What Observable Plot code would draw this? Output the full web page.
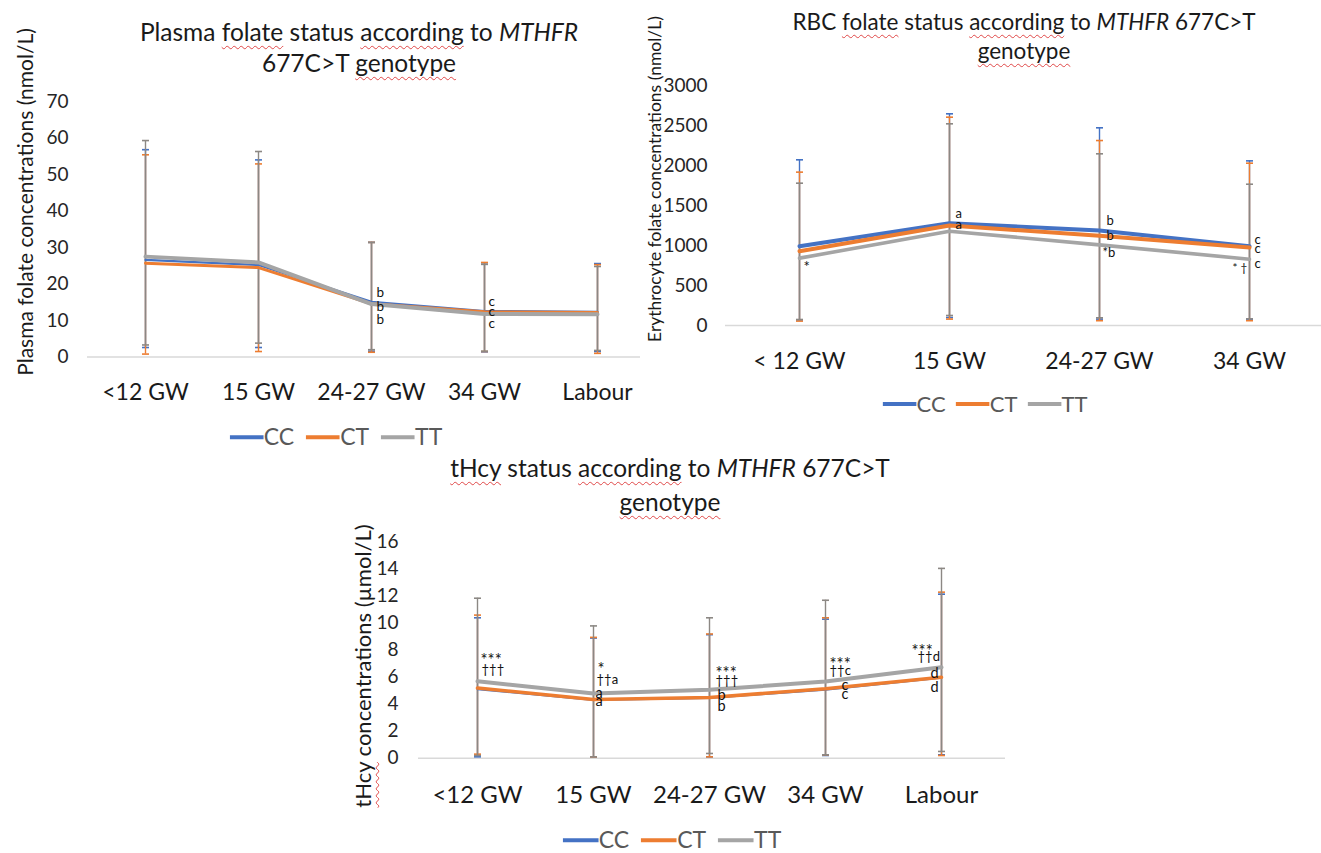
<!DOCTYPE html>
<html><head><meta charset="utf-8">
<script src="https://cdn.jsdelivr.net/npm/d3@7"></script>
<script src="https://cdn.jsdelivr.net/npm/@observablehq/plot@0.6"></script>
<style>
body{margin:0;background:#fff;}
#root{position:relative;width:1321px;height:853px;overflow:hidden;font-family:Lato,"Open Sans",sans-serif;color:#1a1a1a;background:#fff;}
.abs{position:absolute;white-space:nowrap;line-height:1.2;}
.title{transform:translate(-50%,-50%);text-align:center;}
.sp{text-decoration:underline wavy #e04848;text-decoration-thickness:1px;text-underline-offset:4px;text-decoration-skip-ink:none;}
.ytitle{transform:translate(-50%,-50%) rotate(-90deg);}
.legend{display:flex;align-items:center;transform:translate(-50%,-50%);color:#595959;}
.legend svg{display:block;}
</style></head>
<body><div id="root"></div>
<script>
// ---------- data ----------
const genotypes = ["CC", "CT", "TT"];

// Plasma folate (nmol/L)
const plasmaCats = ["<12 GW", "15 GW", "24-27 GW", "34 GW", "Labour"];
const plasmaCC = [26.6, 25.2, 15.1, 12.6, 12.4];
const plasmaCT = [25.7, 24.5, 14.6, 12.4, 12.2];
const plasmaTT = [27.5, 25.9, 14.5, 11.8, 11.7];
const plasmaUpperCC = [56.8, 54.0, 31.4, 25.4, 25.6];
const plasmaUpperCT = [55.4, 52.9, 31.4, 25.9, 25.3];
const plasmaUpperTT = [59.3, 56.3, 31.4, 25.4, 24.8];
const plasmaLowerCC = [2.6, 2.6, 1.6, 1.4, 1.5];
const plasmaLowerCT = [0.8, 1.5, 1.3, 1.5, 1.0];
const plasmaLowerTT = [3.3, 3.8, 2.0, 1.6, 1.8];
const plasmaTicks = [0, 10, 20, 30, 40, 50, 60, 70];
const plasmaNotes = [
  ["24-27 GW", 17.5, "b"], ["24-27 GW", 13.8, "b"], ["24-27 GW", 10.2, "b"],
  ["34 GW", 15.1, "c"], ["34 GW", 12.4, "c"], ["34 GW", 9.0, "c"]
];

// RBC folate (nmol/L)
const rbcCats = ["< 12 GW", "15 GW", "24-27 GW", "34 GW"];
const rbcCC = [991, 1279, 1187, 991];
const rbcCT = [929, 1250, 1121, 975];
const rbcTT = [842, 1179, 1008, 829];
const rbcUpperCC = [2071, 2646, 2471, 2058];
const rbcUpperCT = [1917, 2604, 2312, 2029];
const rbcUpperTT = [1779, 2521, 2146, 1766];
const rbcLowerCC = [70, 100, 80, 80];
const rbcLowerCT = [55, 80, 60, 60];
const rbcLowerTT = [75, 125, 96, 83];
const rbcTicks = [0, 500, 1000, 1500, 2000, 2500, 3000];
const rbcNotes = [
  ["< 12 GW", 742, "*"],
  ["15 GW", 1396, "a"], ["15 GW", 1258, "a"],
  ["24-27 GW", 1312, "b"], ["24-27 GW", 1121, "b"], ["24-27 GW", 904, "*b"],
  ["34 GW", 1075, "c"], ["34 GW", 958, "c"], ["34 GW", 771, "c"], ["34 GW", 717, "* \u2020"]
];

// tHcy (µmol/L)
const hcyCats = ["<12 GW", "15 GW", "24-27 GW", "34 GW", "Labour"];
const hcyCC = [5.1, 4.3, 4.45, 5.05, 5.95];
const hcyCT = [5.2, 4.35, 4.5, 5.14, 6.0];
const hcyTT = [5.7, 4.8, 5.07, 5.68, 6.73];
const hcyUpperCC = [10.4, 8.9, 9.15, 10.3, 12.15];
const hcyUpperCT = [10.6, 8.95, 9.2, 10.4, 12.3];
const hcyUpperTT = [11.85, 9.8, 10.4, 11.7, 14.06];
const hcyLowerCC = [0.1, 0.1, 0.1, 0.2, 0.25];
const hcyLowerCT = [0.3, 0.1, 0.1, 0.25, 0.2];
const hcyLowerTT = [0.2, 0.1, 0.35, 0.25, 0.5];
const hcyTicks = [0, 2, 4, 6, 8, 10, 12, 14, 16];
const hcyNotes = [
  ["<12 GW", 7.3, "***"], ["<12 GW", 6.56, "\u2020\u2020\u2020"],
  ["15 GW", 6.7, "*"], ["15 GW", 5.83, "\u2020\u2020a"], ["15 GW", 4.84, "a"], ["15 GW", 4.23, "a"],
  ["24-27 GW", 6.37, "***"], ["24-27 GW", 5.75, "\u2020\u2020\u2020"], ["24-27 GW", 4.65, "b"], ["24-27 GW", 3.86, "b"],
  ["34 GW", 7.06, "***"], ["34 GW", 6.44, "\u2020\u2020c"], ["34 GW", 5.43, "c"], ["34 GW", 4.7, "c"],
  ["Labour", 8.04, "***"], ["Labour", 7.52, "\u2020\u2020d"], ["Labour", 6.25, "d"], ["Labour", 5.26, "d"]
];

// ---------- layout / style ----------
const lineColors = ["#4472C4", "#ED7D31", "#A5A5A5"];
const errStroke = ["#4472C4", "#ED7D31", "#8c8884"];
const capStroke = ["#4472C4", "#ED7D31", "#8c8884"];
const plasmaNoteDx = [5, 5, 5, 4, 4, 4];
const rbcNoteDx = [4, 6, 6, 7, 7, 3, 5, 5, 5, -17];
const hcyNoteDx = [3, 4, 4, 3, 2, 2, 6, 6, 8, 8, 4, 4, 16, 16, -30, -24, -11, -11];

const root = document.getElementById("root");
function place(html, cls, x, y, style) {
  const d = document.createElement("div");
  d.className = "abs " + cls;
  d.innerHTML = html;
  d.style.left = x + "px";
  d.style.top = y + "px";
  Object.assign(d.style, style || {});
  root.appendChild(d);
  return d;
}

const capSymbol = {
  draw(ctx, size) {
    const r = Math.sqrt(size / Math.PI);
    ctx.moveTo(-r, 0);
    ctx.lineTo(r, 0);
  }
};

function chart(cfg) {
  const marks = [
    Plot.ruleY([0], {stroke: "#d9d9d9", strokeWidth: 1.5}),
    Plot.axisY({ticks: cfg.yTicks, tickFormat: d3.format("d"), tickSize: 0, tickPadding: cfg.yPad, fontSize: cfg.yFont, fill: "#262626", label: null}),
    Plot.axisX({tickSize: 0, tickPadding: cfg.xPad, fontSize: cfg.xFont, fill: "#1a1a1a", label: null})
  ];
  genotypes.forEach((g, gi) => {
    const rows = cfg.cats.map((c, i) => ({cat: c, lo: cfg.lower[gi][i], hi: cfg.upper[gi][i]}));
    marks.push(Plot.ruleX(rows, {x: "cat", y1: "lo", y2: "hi", stroke: errStroke[gi], strokeWidth: 1.4}));
    marks.push(Plot.dot(rows, {x: "cat", y: "hi", symbol: capSymbol, r: 3.5, stroke: capStroke[gi], strokeWidth: 1.6, fill: "none"}));
    marks.push(Plot.dot(rows, {x: "cat", y: "lo", symbol: capSymbol, r: 3.5, stroke: capStroke[gi], strokeWidth: 1.6, fill: "none"}));
  });
  genotypes.forEach((g, gi) => {
    const rows = cfg.cats.map((c, i) => ({cat: c, v: cfg.means[gi][i]}));
    marks.push(Plot.line(rows, {x: "cat", y: "v", stroke: lineColors[gi], strokeWidth: cfg.lineWidths[gi], strokeLinejoin: "round"}));
  });
  cfg.notes.forEach((n, i) => {
    const isStar = /^\*+$/.test(n[2]);
    const hasDagger = n[2].includes("\u2020");
    const fs = isStar ? cfg.noteFont * 1.15 : hasDagger ? cfg.noteFont * 0.9 : cfg.noteFont;
    marks.push(Plot.text([n], {
      x: d => d[0], y: d => d[1], text: d => d[2],
      textAnchor: "start", dx: cfg.noteDx[i], dy: isStar ? 1.5 : 0,
      fontSize: fs, fill: "#111111"
    }));
  });
  const svg = Plot.plot({
    width: cfg.width, height: cfg.height,
    marginLeft: cfg.marginLeft, marginRight: cfg.marginRight,
    marginTop: cfg.marginTop, marginBottom: cfg.marginBottom,
    x: {type: "point", domain: cfg.cats, range: cfg.xRange, padding: 0},
    y: {domain: [0, cfg.yMax]},
    style: {background: "transparent", overflow: "visible", fontFamily: "Lato, 'Open Sans', sans-serif", color: "#1a1a1a"},
    marks
  });
  const wrap = document.createElement("div");
  wrap.className = "abs";
  wrap.style.left = cfg.left + "px";
  wrap.style.top = cfg.top + "px";
  wrap.appendChild(svg);
  root.appendChild(wrap);
}

function legend(cx, cy, fontSize, swatchW, gap) {
  const html = genotypes.map((g, i) =>
    `<span style="display:flex;align-items:center;margin-right:${i < 2 ? gap : 0}px">` +
    `<svg width="${swatchW}" height="8"><line x1="0" x2="${swatchW}" y1="4" y2="4" stroke="${lineColors[i]}" stroke-width="4"/></svg>` +
    `<span style="font-size:${fontSize}px;line-height:1.1">${g}</span></span>`
  ).join("");
  place(html, "legend", cx, cy);
}

// ---------- chart 1: plasma folate ----------
place('Plasma <span class="sp">folate</span> status <span class="sp">according</span> to <i>MTHFR</i>', "title", 359, 32, {fontSize: "24.5px"});
place('677C&gt;T <span class="sp">genotype</span>', "title", 359, 63, {fontSize: "24.5px"});
place('Plasma folate concentrations (nmol/L)', "ytitle", 25, 202, {fontSize: "21px"});
chart({
  cats: plasmaCats,
  means: [plasmaCC, plasmaCT, plasmaTT],
  upper: [plasmaUpperCC, plasmaUpperCT, plasmaUpperTT],
  lower: [plasmaLowerCC, plasmaLowerCT, plasmaLowerTT],
  notes: plasmaNotes, noteDx: plasmaNoteDx, noteFont: 13.5,
  yMax: 70, yTicks: plasmaTicks,
  left: 0, top: 80, width: 645, height: 340,
  marginLeft: 87, marginRight: 5, marginTop: 21, marginBottom: 63.5,
  xRange: [144, 597], yPad: 19, xPad: 27, xFont: 23, yFont: 19,
  lineWidths: [2.2, 3, 4]
});
legend(336, 437, 23, 34, 12);

// ---------- chart 2: RBC folate ----------
place('RBC <span class="sp">folate</span> status <span class="sp">according</span> to <i>MTHFR</i> 677C&gt;T', "title", 1024, 21, {fontSize: "22.5px"});
place('<span class="sp">genotype</span>', "title", 1024, 50, {fontSize: "22.5px"});
place('Erythrocyte folate concentrations (nmol/L)', "ytitle", 654, 179, {fontSize: "17.5px"});
chart({
  cats: rbcCats,
  means: [rbcCC, rbcCT, rbcTT],
  upper: [rbcUpperCC, rbcUpperCT, rbcUpperTT],
  lower: [rbcLowerCC, rbcLowerCT, rbcLowerTT],
  notes: rbcNotes, noteDx: rbcNoteDx, noteFont: 13,
  yMax: 3000, yTicks: rbcTicks,
  left: 640, top: 60, width: 681, height: 330,
  marginLeft: 85, marginRight: 0, marginTop: 25, marginBottom: 65,
  xRange: [159, 609], yPad: 18, xPad: 27, xFont: 23, yFont: 19,
  lineWidths: [4, 4, 3.6]
});
legend(985, 404, 22, 34, 10);

// ---------- chart 3: tHcy ----------
place('<span class="sp">tHcy</span> status <span class="sp">according</span> to <i>MTHFR</i> 677C&gt;T', "title", 670, 468, {fontSize: "24.5px"});
place('<span class="sp">genotype</span>', "title", 670, 502, {fontSize: "24.5px"});
place('<span class="sp">tHcy</span> concentrations (\u00b5mol/L)', "ytitle", 363, 666, {fontSize: "22px"});
chart({
  cats: hcyCats,
  means: [hcyCC, hcyCT, hcyTT],
  upper: [hcyUpperCC, hcyUpperCT, hcyUpperTT],
  lower: [hcyLowerCC, hcyLowerCT, hcyLowerTT],
  notes: hcyNotes, noteDx: hcyNoteDx, noteFont: 14.5,
  yMax: 16, yTicks: hcyTicks,
  left: 330, top: 520, width: 680, height: 300,
  marginLeft: 88, marginRight: 5, marginTop: 21.7, marginBottom: 62.3,
  xRange: [147, 611], yPad: 20, xPad: 28, xFont: 24, yFont: 19,
  lineWidths: [1.6, 3.6, 4]
});
legend(672, 840, 23, 36, 12);
</script>
</body></html>
